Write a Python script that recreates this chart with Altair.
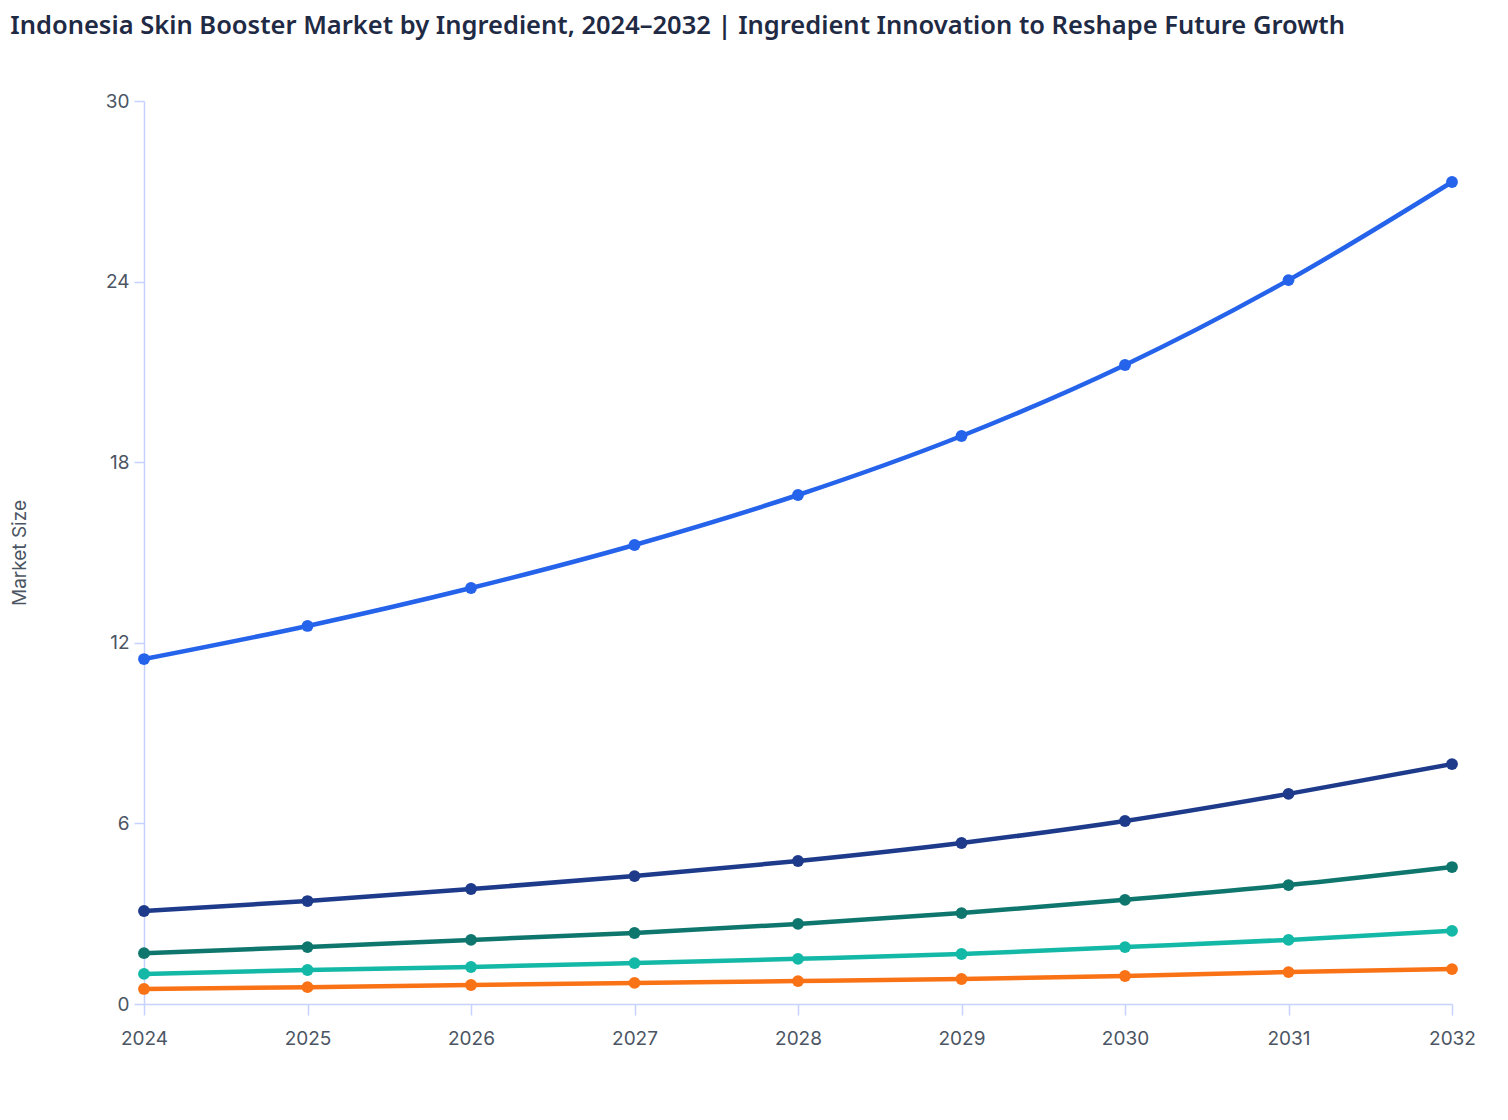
import altair as alt
import pandas as pd

years = [2024, 2025, 2026, 2027, 2028, 2029, 2030, 2031, 2032]
series_names = ["Hyaluronic Acid", "Polynucleotides", "Peptides", "Vitamins & Antioxidants", "Others"]
series_colors = ["#2563eb", "#1e3a8a", "#0f766e", "#14b8a6", "#f97316"]

hyaluronic = [11.46, 12.56, 13.82, 15.25, 16.91, 18.87, 21.23, 24.05, 27.31]
polynucleotides = [3.09, 3.42, 3.82, 4.25, 4.75, 5.35, 6.08, 6.98, 7.97]
peptides = [1.69, 1.89, 2.13, 2.36, 2.66, 3.02, 3.46, 3.95, 4.55]
vitamins = [1.00, 1.13, 1.23, 1.36, 1.50, 1.66, 1.89, 2.13, 2.43]
others = [0.50, 0.56, 0.63, 0.70, 0.76, 0.83, 0.93, 1.06, 1.16]

all_values = [hyaluronic, polynucleotides, peptides, vitamins, others]
rows = []
for name, vals in zip(series_names, all_values):
    for y, v in zip(years, vals):
        rows.append({"Year": y, "Ingredient": name, "Market Size": v})
df = pd.DataFrame(rows)

axis_color = "#c7d2fe"
text_color = "#4b5563"

x_enc = alt.X("Year:O", title=None,
              scale=alt.Scale(padding=0),
              axis=alt.Axis(labelAngle=0, labelColor=text_color, labelFontSize=19,
                            labelFont="Inter", domainColor=axis_color, tickColor=axis_color,
                            tickSize=11, labelPadding=14, grid=False, domainWidth=1.5, tickWidth=1.5))
y_enc = alt.Y("Market Size:Q", title="Market Size",
              scale=alt.Scale(domain=[0, 30]),
              axis=alt.Axis(values=[0, 6, 12, 18, 24, 30], labelColor=text_color, labelFontSize=19,
                            labelFont="Inter", domainColor=axis_color, tickColor=axis_color,
                            tickSize=10, labelPadding=5, grid=False, titleFont="Inter",
                            titleFontSize=19, titleFontWeight="normal", titleColor=text_color,
                            titlePadding=76, domainWidth=1.5, tickWidth=1.5))
color_enc = alt.Color("Ingredient:N", scale=alt.Scale(domain=series_names, range=series_colors),
                      legend=None)

base = alt.Chart(df).encode(x=x_enc, y=y_enc, color=color_enc)
lines = base.mark_line(strokeWidth=4.5, interpolate="monotone")
points = base.mark_circle(size=140, opacity=1)

chart = (lines + points).properties(
    width=1308, height=903,
    padding={"top": 5, "left": 2, "right": 5, "bottom": 5},
    background="white",
    title=alt.TitleParams(
        "Indonesia Skin Booster Market by Ingredient, 2024\u20132032 | Ingredient Innovation to Reshape Future Growth",
        anchor="start", frame="bounds", font="Noto Sans", fontSize=25.5, fontWeight=600,
        color="#1f2a44", offset=53)
).configure_view(stroke=None)

chart.save("out.html", embed_options={"renderer": "svg", "actions": False})
